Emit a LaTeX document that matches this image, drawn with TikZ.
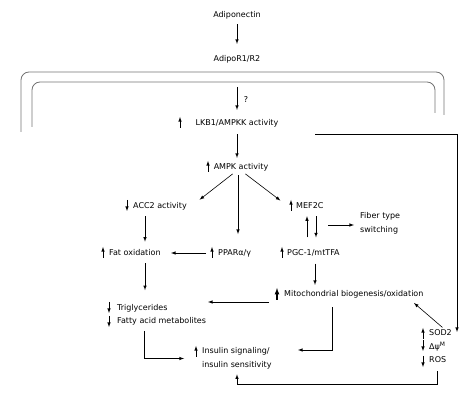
\documentclass[tikz,border=0pt]{standalone}
\usepackage{fontspec}
\setmainfont{DejaVu Sans}
\usetikzlibrary{arrows,positioning}

\begin{document}
\begin{tikzpicture}[x=1pt, y=-1pt, >=latex,
    lbl/.style={inner sep=1pt, font=\fontsize{8}{13.5}\selectfont},
    link/.style={->, semithick},
    ind/.style={->, semithick},
    membrane/.style={draw=black!55, line width=0.8pt, rounded corners=8pt}]
    \useasboundingbox (0,0) rectangle (474,403);

    % cell membrane
    \draw[membrane] (21,132) -- (21,72) -- (444,72) -- (444,115);
    \draw[membrane] (32,127) -- (32,82) -- (435,82) -- (435,113);

    \node[lbl] (adipo) at (237,15) {Adiponectin};
    \node[lbl] (recep) at (237,59) {AdipoR1/R2};
    \node[lbl] (query) at (246,100) {?};
    \node[lbl] (lkb) at (237,123) {LKB1/AMPKK activity};
    \node[lbl] (ampk) at (241,167) {AMPK activity};
    \node[lbl, anchor=west] (acc) at (132,206) {ACC2 activity};
    \node[lbl, anchor=west] (mef) at (295,206) {MEF2C};
    \node[lbl, anchor=west, align=left] (fiber) at (359,223.5) {Fiber type\\switching};
    \node[lbl, anchor=west] (fat) at (108,253) {Fat oxidation};
    \node[lbl, anchor=west] (ppar) at (217,253) {PPARα/γ};
    \node[lbl, anchor=west] (pgc) at (286,253) {PGC-1/mtTFA};
    \node[lbl, anchor=west] (mito) at (283,294) {Mitochondrial biogenesis/oxidation};
    \node[lbl, anchor=west, align=left] (trig) at (116,315) {Triglycerides\\Fatty acid metabolites};
    \node[lbl, anchor=west, align=left] (ins) at (201,358.5) {Insulin signaling/\\insulin sensitivity};
    \node[lbl, anchor=west, align=left] (sod) at (428,346.5) {SOD2\\Δψ\textsuperscript{M}\\ROS};

    \coordinate (entry) at (237,87);
    \coordinate (branch) at (315,134);
    \coordinate (sodin) at (457,332);
    \coordinate (loop) at (328,225);

    % signalling links
    \draw[link, shorten <=4pt, shorten >=10pt] (adipo) -- (recep);
    \draw[link, shorten >=8pt] (entry) -- (lkb);
    \draw[link, shorten <=6pt, shorten >=4pt] (lkb.south) -- (lkb.south |- ampk.north);
    \draw[link] (branch) -| (sodin);
    \draw[link, shorten <=3pt, shorten >=2pt] ([xshift=-6pt]ampk.south) -- ([xshift=66pt]acc.north west);
    \draw[link, shorten <=3pt, shorten >=2pt] ([xshift=2pt]ampk.south) -- ([xshift=-13pt]mef.north west);
    \draw[link, shorten <=3pt, shorten >=14pt] ([xshift=-3pt]ampk.south) -- ([xshift=-3pt]ampk.south |- ppar.north);
    \draw[link, shorten <=5pt, shorten >=7pt] ([xshift=13pt]acc.south west) -- ([xshift=13pt]acc.south west |- fat.north);
    \draw[link, shorten <=11pt] (ppar.west) -- ([xshift=63pt]fat.west);
    \draw[link, shorten <=11pt, shorten >=6pt] ([xshift=21pt]pgc.north west) -- ([xshift=21pt]pgc.north west |- mef.south);
    \draw[link, shorten <=6pt, shorten >=11pt] ([xshift=30pt]pgc.north west |- mef.south) -- ([xshift=30pt]pgc.north west);
    \draw[link, shorten >=5pt] (loop) -- (fiber.west |- loop);
    \draw[link, shorten <=6pt, shorten >=13pt] ([xshift=37pt]fat.south west) -- ([xshift=37pt]fat.south west |- trig.north);
    \draw[link, shorten <=6pt, shorten >=4pt] ([xshift=29pt]pgc.south west) -- ([xshift=29pt]pgc.south west |- mito.north);
    \draw[link, shorten <=14pt] ([yshift=-8pt]mito.west) -- ([xshift=92pt,yshift=-8pt]trig.west |- mito.west);
    \draw[link, shorten <=4pt, shorten >=17pt] ([xshift=28pt]trig.south west) |- (ins.west);
    \draw[link, shorten <=8pt, shorten >=97pt] ([xshift=49pt]mito.south west) |- ([yshift=8.5pt]ins.west);
    \draw[link, shorten <=2pt] ([xshift=16pt]sod.north west) -- ([xshift=131pt,yshift=-9pt]mito.west);
    \draw[link, shorten <=7pt, shorten >=4pt] ([xshift=9pt]sod.south west) -- ++(0,20) -| ([xshift=36pt]ins.south west);

    % up and down markers
    \foreach \x/\y in {180/128, 208/172, 291/211, 103/258, 212/258, 282/258, 196/357, 423/339}
        \draw[ind] (\x,\y) -- ++(0,-11);
    \foreach \x/\y in {127/200, 109/302, 109/316, 423/340, 423/356}
        \draw[ind] (\x,\y) -- ++(0,11);
    \draw[ind, line width=1.2pt] (277,300) -- ++(0,-12);
\end{tikzpicture}
\end{document}
